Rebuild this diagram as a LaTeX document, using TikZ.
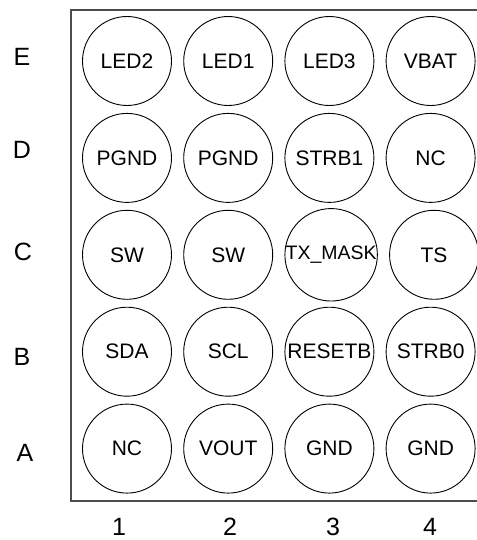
\documentclass[tikz,border=0pt]{standalone}
\usepackage{fontspec}
\setmainfont{Liberation Sans}
\usetikzlibrary{positioning}
\tikzset{
  ball/.style={draw, circle, line width=0.9pt, minimum size=89pt, inner sep=0pt,
    font=\fontsize{21}{25}\selectfont},
  axislabel/.style={font=\fontsize{25}{30}\selectfont, inner sep=0pt},
}
\begin{document}
\begin{tikzpicture}[x=1pt,y=-1pt,node distance=7pt and 11.3pt]
                \useasboundingbox (0,0) rectangle (476,540);
                % Package outline
                \draw[line width=1.5pt, black!70] (71,10) rectangle (490,501);

                % Balls
                \node[ball] (E1) at (127,61) {LED2};
                \node[ball, right=of E1] (E2) {LED1};
                \node[ball, right=of E2] (E3) {LED3};
                \node[ball, right=of E3] (E4) {VBAT};

                \node[ball, below=of E1] (D1) {PGND};
                \node[ball, right=of D1] (D2) {PGND};
                \node[ball, right=of D2] (D3) {STRB1};
                \node[ball, right=of D3] (D4) {NC};

                \node[ball, below=of D1] (C1) {SW};
                \node[ball, right=of C1] (C2) {SW};
                \node[ball, right=of C2, font=\fontsize{19.5}{23}\selectfont] (C3) {TX\_MASK};
                \node[ball, right=of C3] (C4) {TS};

                \node[ball, below=of C1] (B1) {SDA};
                \node[ball, right=of B1] (B2) {SCL};
                \node[ball, right=of B2] (B3) {RESETB};
                \node[ball, right=of B3] (B4) {STRB0};

                \node[ball, below=of B1] (A1) {NC};
                \node[ball, right=of A1] (A2) {VOUT};
                \node[ball, right=of A2] (A3) {GND};
                \node[ball, right=of A3] (A4) {GND};

                % Row letters
                \node[axislabel] (RowE) at (22,57) {E};
                \node[axislabel] (RowD) at (22,150) {D};
                \node[axislabel] (RowC) at (23,252) {C};
                \node[axislabel] (RowB) at (22,357) {B};
                \node[axislabel] (RowA) at (25,453) {A};

                % Column numbers
                \node[axislabel] (Col1) at (119,527) {1};
                \node[axislabel] (Col2) at (230,527) {2};
                \node[axislabel] (Col3) at (333,527) {3};
                \node[axislabel] (Col4) at (430,527) {4};
              \end{tikzpicture}
\end{document}
